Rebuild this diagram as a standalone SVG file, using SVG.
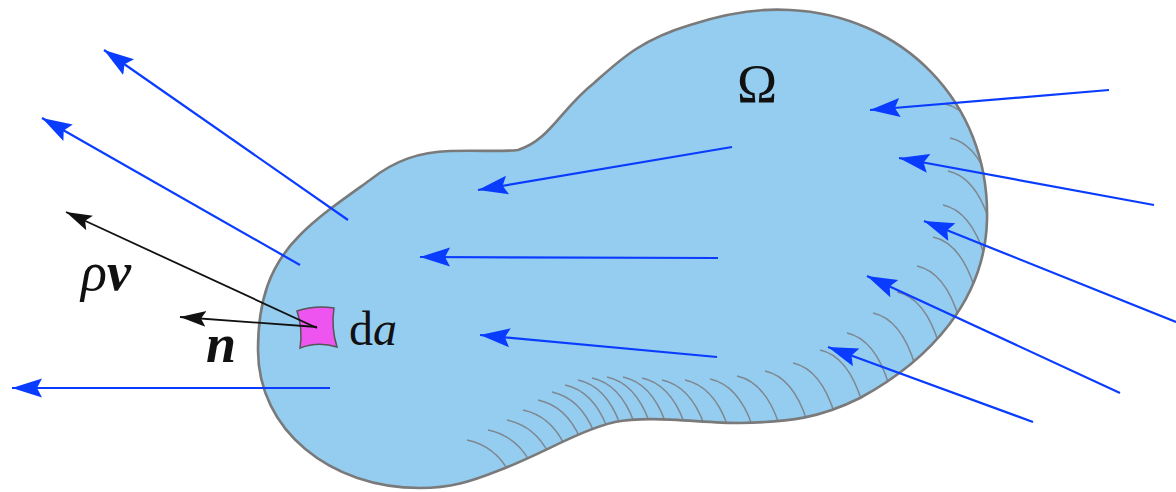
<svg xmlns="http://www.w3.org/2000/svg" width="1176" height="492" viewBox="0 0 1176 492">
<style>
.blue{stroke:#0a3cff;stroke-width:2.2;fill:none;marker-end:url(#hb)}
.blk{stroke:#111;stroke-width:1.8;fill:none;marker-end:url(#hk)}
.hatch path{stroke:#7f8890;stroke-width:1.5;fill:none}
.serif{font-family:"Liberation Serif","DejaVu Serif",serif;fill:#111}
</style>
<defs>
<marker id="hb" markerUnits="userSpaceOnUse" markerWidth="32" markerHeight="22" viewBox="0 0 32 22" refX="30" refY="11" orient="auto">
<path d="M30,11 L0,1.5 L5,11 L0,20.5 Z" fill="#0a3cff"/>
</marker>
<marker id="hk" markerUnits="userSpaceOnUse" markerWidth="28" markerHeight="20" viewBox="0 0 28 20" refX="26" refY="10" orient="auto">
<path d="M26,10 L0,2 L5,10 L0,18 Z" fill="#111"/>
</marker>
<path id="blobShape" d="M518,150 C550,140 560,110 594,83 C620,60 640,40 690,25 C730,12 760,8 790,10 C900,15 990,100 987,220 C985,300 930,360 860,398 C820,418 790,422 740,423 C700,423 650,415 615,422 C580,430 540,455 500,470 C470,482 450,488 420,488 C330,488 258,430 258,350 C258,300 270,265 300,235 C320,215 345,198 370,180 C395,160 420,152 450,151 C480,150 500,152 518,150 Z"/>
<clipPath id="blobClip"><use href="#blobShape"/></clipPath>
</defs>
<g id="domain">
<use href="#blobShape" fill="#95cdf1"/>
<g class="hatch" clip-path="url(#blobClip)">
<path d="M467,440 q28,6 42,32"/>
<path d="M488,430 q28,6 42,32"/>
<path d="M507,420 q28,6 42,34"/>
<path d="M523,410 q28,6 42,36"/>
<path d="M538,400 q28,6 42,38"/>
<path d="M552,392 q28,6 42,40"/>
<path d="M565,385 q28,6 42,42"/>
<path d="M578,380 q28,6 42,44"/>
<path d="M592,378 q28,6 42,44"/>
<path d="M607,377 q28,6 42,44"/>
<path d="M623,377 q28,6 42,44"/>
<path d="M642,378 q28,6 42,44"/>
<path d="M662,380 q28,6 42,44"/>
<path d="M685,380 q28,6 42,44"/>
<path d="M710,379 q28,6 42,46"/>
<path d="M737,376 q28,6 42,48"/>
<path d="M765,371 q28,6 42,50"/>
<path d="M793,363 q28,6 42,52"/>
<path d="M820,350 q28,6 42,52"/>
<path d="M847,333 q28,6 42,52"/>
<path d="M873,313 q28,6 42,52"/>
<path d="M897,292 q28,6 42,52"/>
<path d="M917,266 q28,6 42,52"/>
<path d="M933,237 q28,6 42,52"/>
<path d="M943,205 q28,6 42,52"/>
<path d="M948,171 q28,6 42,52"/>
<path d="M950,138 q28,6 42,52"/>
<path d="M945,104 q28,6 42,52"/>
</g>
<use href="#blobShape" fill="none" stroke="#7a7a7a" stroke-width="2.6"/>
<text class="serif" x="757" y="102" font-size="54" text-anchor="middle">Ω</text>
</g>
<g id="connectors">
<line class="blue" x1="348" y1="220" x2="104" y2="50"/>
<line class="blue" x1="300" y1="265" x2="42" y2="118"/>
<line class="blue" x1="330" y1="388" x2="12" y2="388"/>
<line class="blue" x1="732" y1="147" x2="478" y2="190"/>
<line class="blue" x1="718" y1="258" x2="420" y2="257"/>
<line class="blue" x1="717" y1="357" x2="480" y2="335"/>
<line class="blue" x1="1109" y1="90" x2="870" y2="110"/>
<line class="blue" x1="1154" y1="205" x2="899" y2="158"/>
<line class="blue" x1="1176" y1="322" x2="924" y2="221"/>
<line class="blue" x1="1120" y1="393" x2="867" y2="276"/>
<line class="blue" x1="1033" y1="422" x2="828" y2="347"/>
</g>
<g id="da-patch">
<path d="M297,311 Q315,305 334,308 Q331,328 337,347 Q318,341 300,348 Q303,329 297,311 Z" fill="#ee55f0" stroke="#555" stroke-width="1.5"/>
<text class="serif" x="349" y="345" font-size="48">d<tspan font-style="italic">a</tspan></text>
</g>
<g id="flux-vectors">
<line class="blk" x1="317" y1="328" x2="66" y2="212"/>
<line class="blk" x1="317" y1="327" x2="180" y2="317"/>
<text class="serif" x="81" y="290" font-size="54" font-style="italic">ρ<tspan font-weight="bold">v</tspan></text>
<text class="serif" x="206" y="362" font-size="54" font-style="italic" font-weight="bold">n</text>
</g>
</svg>
